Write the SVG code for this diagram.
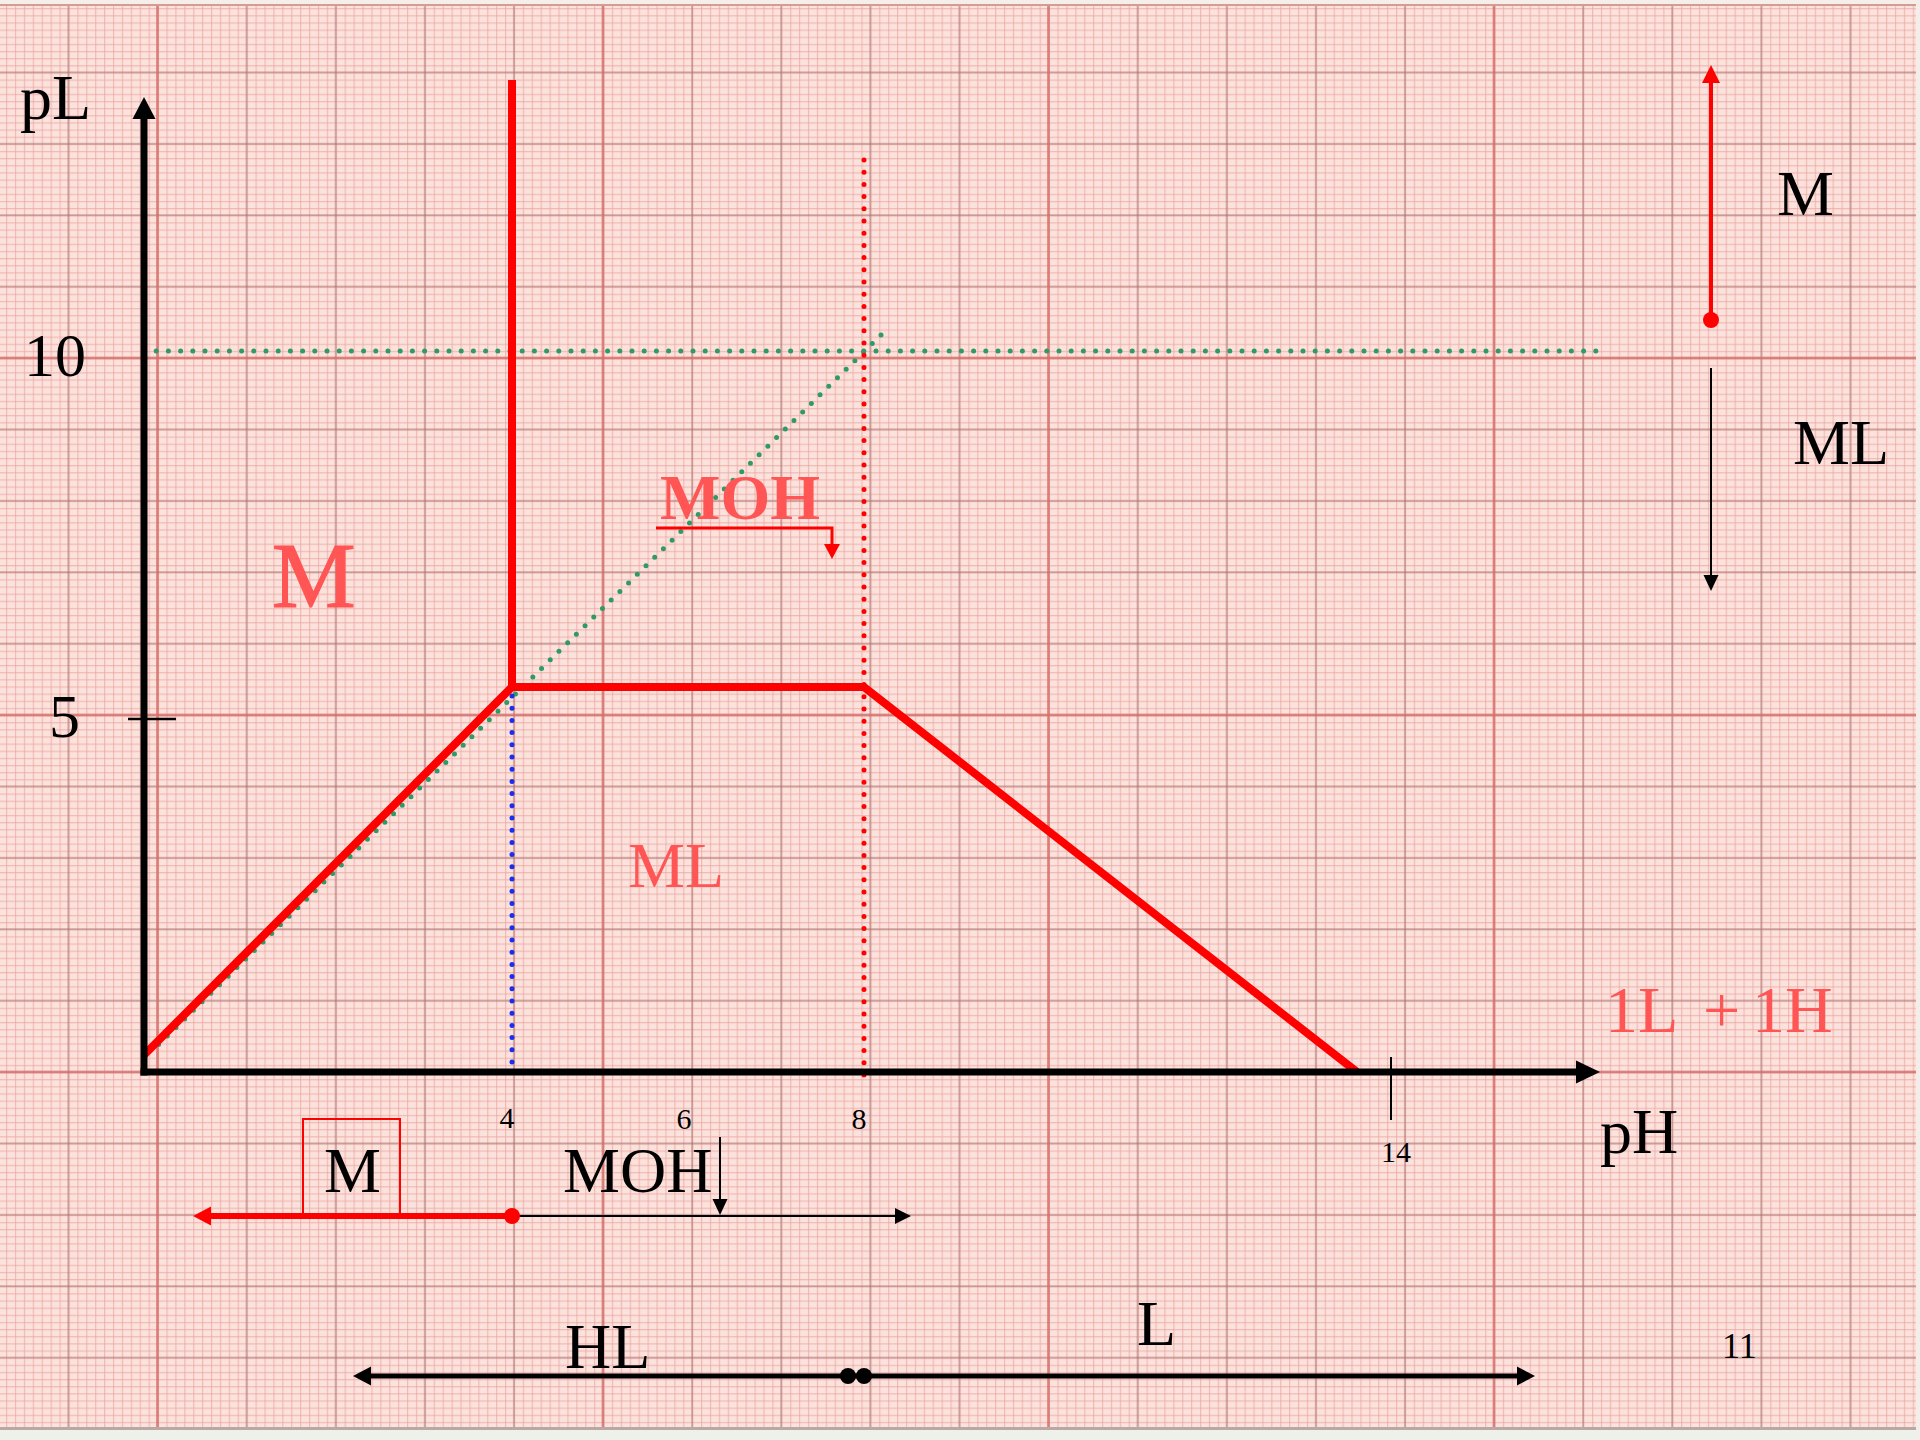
<svg xmlns="http://www.w3.org/2000/svg" width="1920" height="1440" viewBox="0 0 1920 1440">
  <style>
    text { font-family: "Liberation Serif", "Times New Roman", serif; }
    .blk { fill: #000000; }
    .red { fill: #ff5555; }
    .ax { stroke: #000000; stroke-width: 7; fill: none; }
    .curve { stroke: #ff0000; stroke-width: 8; fill: none; stroke-linejoin: miter; }
    .dot { stroke-width: 5; stroke-linecap: round; stroke-dasharray: 0 12.2; fill: none; }
    .thin { stroke: #000000; stroke-width: 2; fill: none; }
  </style>
  <defs>
    <pattern id="minor" patternUnits="userSpaceOnUse" x="603" y="1" width="8.91" height="7.14">
      <rect x="0" y="0" width="8.91" height="7.14" fill="#fbe2dd"/>
      <rect x="0" y="0" width="1.2" height="7.14" fill="#eda39d" opacity="0.65"/>
      <rect x="0" y="0" width="8.91" height="1.2" fill="#eda39d" opacity="0.65"/>
    </pattern>
    <pattern id="major" patternUnits="userSpaceOnUse" x="602" y="0" width="89.1" height="71.4">
      <rect x="0" y="0" width="2" height="71.4" fill="#a8726e" opacity="0.5"/>
      <rect x="0" y="0" width="89.1" height="2" fill="#a8726e" opacity="0.5"/>
    </pattern>
    <pattern id="strong" patternUnits="userSpaceOnUse" x="601.5" y="-0.5" width="445.5" height="357">
      <rect x="0" y="0" width="3" height="357" fill="#e06a66" opacity="0.6"/>
      <rect x="0" y="0" width="445.5" height="3" fill="#e06a66" opacity="0.6"/>
    </pattern>
  </defs>

  <g id="paper">
    <rect x="0" y="0" width="1920" height="1440" fill="url(#minor)"/>
    <rect x="0" y="0" width="1920" height="1440" fill="url(#major)"/>
    <rect x="0" y="0" width="1920" height="1440" fill="url(#strong)"/>
    <rect x="0" y="0" width="1920" height="4" fill="#f6eee8"/>
    <rect x="0" y="4" width="1920" height="2" fill="#d39c94"/>
    <rect x="0" y="1427" width="1920" height="3" fill="#b9a8a3"/>
    <rect x="0" y="1430" width="1920" height="10" fill="#eef0ea"/>
    <rect x="1916" y="0" width="4" height="1440" fill="#f4eeea"/>
  </g>

  <g id="guides">
    <line class="dot" stroke="#2f9a66" x1="144" y1="351" x2="1604" y2="351"/>
    <line class="dot" stroke="#2f9a66" x1="881" y1="335" x2="153" y2="1050"/>
    <line class="dot" stroke="#ff0000" x1="864" y1="160" x2="864" y2="1080"/>
    <line class="dot" stroke="#1a2cf0" x1="512" y1="696" x2="512" y2="1066"/>
  </g>

  <g id="boundaries">
    <line class="curve" x1="512" y1="80" x2="512" y2="687"/>
    <polyline class="curve" points="144,1055 512,687 864,687 1357,1072"/>
  </g>

  <g id="axes">
    <line class="ax" x1="144" y1="1075.5" x2="144" y2="116"/>
    <polygon class="blk" points="144,97 132.5,119 155.5,119"/>
    <line class="ax" x1="140.5" y1="1072" x2="1580" y2="1072"/>
    <polygon class="blk" points="1600,1072 1576,1060.5 1576,1083.5"/>
    <line stroke="#000" stroke-width="2.5" x1="128" y1="719" x2="176" y2="719"/>
    <line stroke="#000" stroke-width="2" x1="1391" y1="1057" x2="1391" y2="1120"/>
    <text x="20" y="119" font-size="64" class="blk">pL</text>
    <text x="24" y="376" font-size="62" class="blk">10</text>
    <text x="49" y="737" font-size="62" class="blk">5</text>
    <text x="1600" y="1153" font-size="64" class="blk">pH</text>
    <g font-size="30" text-anchor="middle" class="blk">
      <text x="507" y="1128">4</text>
      <text x="684" y="1129">6</text>
      <text x="859" y="1129">8</text>
      <text x="1396" y="1162">14</text>
    </g>
  </g>

  <g id="region-labels">
    <text x="272" y="607" font-size="94" class="red" stroke="#ff5555" stroke-width="1.2">M</text>
    <text x="660" y="519" font-size="64" font-weight="bold" class="red">MOH</text>
    <polyline points="656,528 832,528 832,545" stroke="#ff0000" stroke-width="3" fill="none"/>
    <polygon points="832,559 824,544 840,544" fill="#ff0000"/>
    <text x="628" y="887" font-size="64" class="red">ML</text>
    <text y="1032" font-size="66" class="red"><tspan x="1605">1L</tspan><tspan x="1703">+</tspan><tspan x="1752">1H</tspan></text>
  </g>

  <g id="right-scale">
    <line stroke="#ff0000" stroke-width="4" x1="1711" y1="320" x2="1711" y2="80"/>
    <polygon points="1711,65 1702,83 1720,83" fill="#ff0000"/>
    <circle cx="1711" cy="320" r="8" fill="#ff0000"/>
    <text x="1777" y="215" font-size="64" class="blk">M</text>
    <line class="thin" x1="1711" y1="368" x2="1711" y2="578"/>
    <polygon class="blk" points="1711,591 1703.5,575 1718.5,575"/>
    <text x="1793" y="464" font-size="64" class="blk">ML</text>
  </g>

  <g id="metal-scale">
    <rect x="303" y="1119" width="97" height="99" fill="none" stroke="#ff0000" stroke-width="2"/>
    <text x="324" y="1192" font-size="64" class="blk">M</text>
    <line stroke="#ff0000" stroke-width="6" x1="512" y1="1216" x2="208" y2="1216"/>
    <polygon points="193,1216 211,1206.5 211,1225.5" fill="#ff0000"/>
    <line class="thin" x1="512" y1="1216" x2="897" y2="1216"/>
    <polygon class="blk" points="911,1216 895,1208 895,1224"/>
    <circle cx="512" cy="1216" r="8" fill="#ff0000"/>
    <text x="563" y="1192" font-size="64" class="blk">MOH</text>
    <line class="thin" x1="720" y1="1137" x2="720" y2="1201"/>
    <polygon class="blk" points="720,1215 712.5,1199 727.5,1199"/>
  </g>

  <g id="ligand-scale">
    <line stroke="#000" stroke-width="5" x1="368" y1="1376" x2="1520" y2="1376"/>
    <polygon class="blk" points="353,1376 371,1366.5 371,1385.5"/>
    <polygon class="blk" points="1535,1376 1517,1366.5 1517,1385.5"/>
    <circle cx="848" cy="1376" r="8" class="blk"/>
    <circle cx="864" cy="1376" r="8" class="blk"/>
    <text x="565" y="1368" font-size="64" class="blk">HL</text>
    <text x="1137" y="1345" font-size="64" class="blk">L</text>
    <text x="1722" y="1358" font-size="36" class="blk">11</text>
  </g>
</svg>
